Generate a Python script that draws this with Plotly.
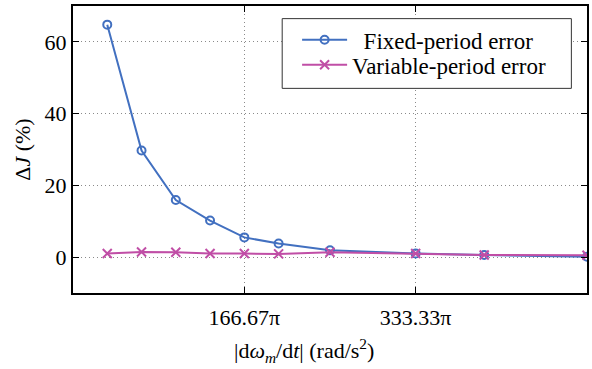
import plotly.graph_objects as go

# Angular acceleration magnitude, in units of pi rad/s^2
accel_pi = [33.33, 66.67, 100.0, 133.33, 166.67, 200.0, 250.0, 333.33, 400.0, 500.0]
fixed_err = [64.8, 29.7, 15.9, 10.2, 5.5, 3.8, 1.9, 1.0, 0.6, 0.1]
variable_err = [1.0, 1.45, 1.35, 1.0, 1.0, 0.9, 1.35, 1.0, 0.6, 0.5]

x_tickvals = [166.67, 333.33]
x_ticktext = ["166.67π", "333.33π"]
y_tickvals = [0, 20, 40, 60]

BLUE = "#4270c0"
MAGENTA = "#c04ea6"
FONT = "Liberation Serif"

fig = go.Figure()
fig.add_trace(go.Scatter(
    x=accel_pi, y=fixed_err, mode="lines+markers",
    name="\u00a0\u00a0Fixed-period error", legend="legend",
    line=dict(color=BLUE, width=2),
    marker=dict(symbol="circle-open", size=8, color=BLUE, line=dict(width=2, color=BLUE)),
))
fig.add_trace(go.Scatter(
    x=accel_pi, y=variable_err, mode="lines+markers",
    name="Variable-period error", legend="legend2",
    line=dict(color=MAGENTA, width=2),
    marker=dict(symbol="x-thin-open", size=9, color=MAGENTA, line=dict(width=2, color=MAGENTA)),
))

axis_common = dict(
    showline=True, linecolor="black", linewidth=2, mirror="allticks",
    ticks="inside", ticklen=6, tickwidth=1, tickcolor="black",
    showgrid=True, gridcolor="#8a8a8a", gridwidth=1, griddash="1px,3px",
    zeroline=False, tickfont=dict(family=FONT, size=22, color="black"),
)

fig.update_xaxes(range=[0, 500], tickvals=x_tickvals, ticktext=x_ticktext,
                 ticklabelstandoff=4, **axis_common)
fig.update_yaxes(
    range=[-10, 70], tickvals=y_tickvals,
    title=dict(text="Δ<i>J</i> (%)", font=dict(family=FONT, size=22, color="black"), standoff=8),
    **axis_common,
)

# x-axis label
fig.add_annotation(
    text="|d<i>ω<sub>m</sub></i>/d<i>t</i>| (rad/s<sup>2</sup>)",
    xref="paper", yref="paper", x=0.45, y=-0.2, xanchor="center", yanchor="middle",
    showarrow=False, font=dict(family=FONT, size=22, color="black"),
)

# legend frame
fig.add_shape(
    type="rect", xref="paper", yref="paper", x0=0.407, x1=0.9696, y0=0.713, y1=0.956,
    line=dict(color="#333333", width=1), fillcolor="white", layer="above",
)

legend_common = dict(
    xanchor="left", yanchor="middle", bgcolor="rgba(0,0,0,0)", borderwidth=0,
    font=dict(family=FONT, size=23, color="black"), itemwidth=45,
)

fig.update_layout(
    width=592, height=369,
    margin=dict(l=73, r=3, t=6, b=76),
    plot_bgcolor="white", paper_bgcolor="white",
    font=dict(family=FONT, size=22, color="black"),
    legend=dict(x=0.436, y=0.882, **legend_common),
    legend2=dict(x=0.436, y=0.795, **legend_common),
    showlegend=True,
)

fig.write_html("out.html")
